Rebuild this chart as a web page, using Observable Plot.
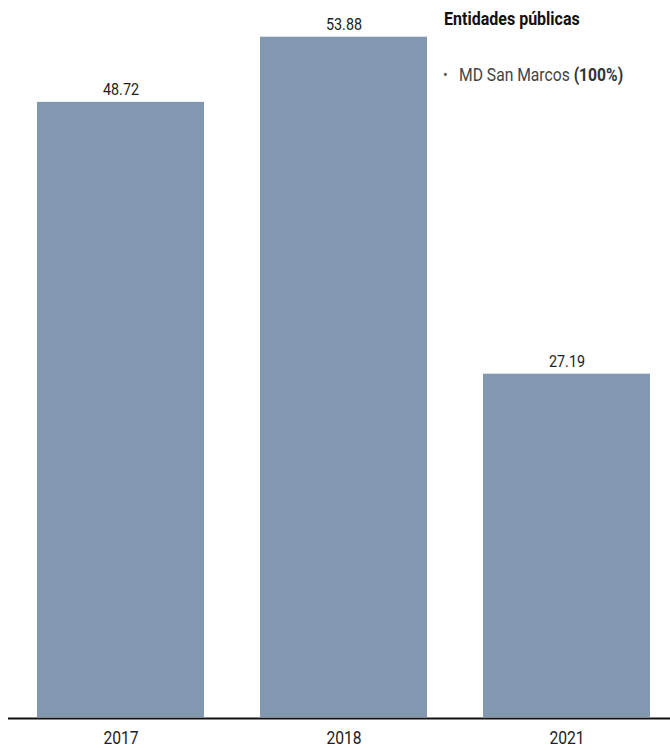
<!DOCTYPE html>
<html>
<head>
<meta charset="utf-8">
<script src="https://cdn.jsdelivr.net/npm/d3@7"></script>
<script src="https://cdn.jsdelivr.net/npm/@observablehq/plot@0.6"></script>
<style>
  html, body { margin: 0; padding: 0; background: #fff; }
  #wrap { position: relative; width: 670px; height: 750px; font-family: Roboto, "Noto Sans", sans-serif; }
  .note { position: absolute; white-space: nowrap; font-size: 18px; line-height: 18px; transform-origin: 0 0; }
  #title { left: 444px; top: 10px; font-weight: 700; color: #111; transform: scaleX(0.89); }
  #bullet { left: 443px; top: 66px; color: #555; }
  #item { left: 459px; top: 66px; color: #444; transform: scaleX(0.87); }
  #item b { color: #333; }
</style>
</head>
<body>
<div id="wrap">
  <div id="chart"></div>
  <div class="note" id="title">Entidades públicas</div>
  <div class="note" id="bullet" style="font-size:14px">•</div>
  <div class="note" id="item">MD San Marcos <b>(100%)</b></div>
</div>
<script>
const years = ["2017", "2018", "2021"];
const values = [48.72, 53.88, 27.19];
const data = years.map((y, i) => ({year: y, value: values[i]}));

const chart = Plot.plot({
  width: 670,
  height: 750,
  marginTop: 36.7,
  marginBottom: 33,
  marginLeft: 8,
  marginRight: 0,
  style: {fontFamily: "Roboto, 'Noto Sans', sans-serif", background: "#fff"},
  x: {domain: years, range: [8, 678.5], paddingInner: 0.25, paddingOuter: 0.125, label: null, tickSize: 0, tickPadding: 14, fontSize: 18},
  y: {domain: [0, 53.88], axis: null},
  marks: [
    Plot.barY(data, {x: "year", y: "value", fill: "#8297b0"}),
    Plot.text(data, {x: "year", y: "value", text: d => d.value.toFixed(2), dy: -12.3, fontSize: 16.5, fill: "#222"}),
    Plot.ruleY([0], {stroke: "#111", strokeWidth: 2, dy: 1})
  ]
});
document.getElementById("chart").appendChild(chart);
chart.querySelectorAll("g[aria-label='x-axis tick label'] text").forEach(t => { t.setAttribute("fill", "#222"); t.style.fontSize = "18px"; });
// condense text horizontally around its center (Roboto Condensed look)
chart.querySelectorAll("text").forEach(t => {
  const b = t.getBBox();
  const cx = b.x + b.width / 2;
  const prev = t.getAttribute("transform") || "";
  t.setAttribute("transform", `${prev} translate(${cx},0) scale(0.87,1) translate(${-cx},0)`.trim());
});
</script>
</body>
</html>
